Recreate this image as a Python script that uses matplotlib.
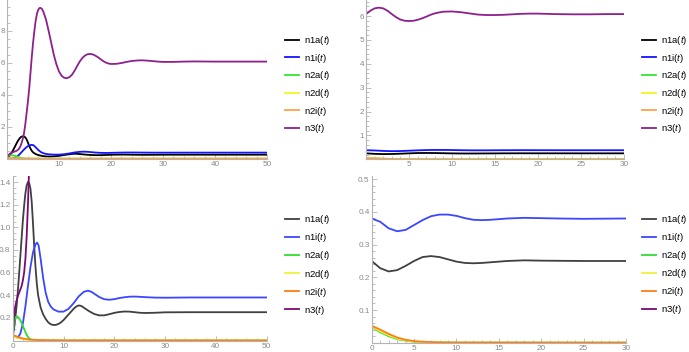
import numpy as np
import matplotlib
matplotlib.use("Agg")
import matplotlib.pyplot as plt
from matplotlib.ticker import MultipleLocator, FixedLocator

plt.rcParams['font.family'] = ['Liberation Sans', 'DejaVu Sans']
plt.rcParams['mathtext.fontset'] = 'custom'
plt.rcParams['mathtext.rm'] = 'Liberation Sans'
plt.rcParams['mathtext.it'] = 'Liberation Sans:italic'

# ---- data: run from initial state (left panels), t = 0..50
t_n1a = [0, 0.25, 0.5, 0.75, 1.0, 1.25, 1.5, 1.75, 2.0, 2.25, 2.5, 2.75, 3.0, 3.25, 3.5, 3.75,
         4.0, 4.25, 4.5, 4.75, 5.0, 5.5, 6.0, 6.5, 7.0, 7.5, 8.0, 8.5, 9.0, 9.5, 10, 11, 12, 12.5,
         13, 13.5, 14, 15, 16, 17, 18, 19, 20, 21, 22, 23, 24, 25, 26, 28, 30, 35, 40, 50]
n1a = [0.04, 0.1, 0.19, 0.3, 0.43, 0.58, 0.74, 0.9, 1.06, 1.19, 1.3, 1.37, 1.4, 1.39, 1.34, 1.22,
       1.03, 0.82, 0.64, 0.5, 0.4, 0.29, 0.23, 0.19, 0.16, 0.143, 0.137, 0.138, 0.146, 0.16, 0.18,
       0.23, 0.28, 0.3, 0.31, 0.305, 0.29, 0.26, 0.235, 0.222, 0.222, 0.232, 0.244, 0.252, 0.256,
       0.255, 0.25, 0.245, 0.243, 0.245, 0.249, 0.25, 0.25, 0.25]

t_n1i = [0, 0.5, 1.0, 1.5, 2.0, 2.5, 3.0, 3.5, 4.0, 4.5, 4.8, 5.1, 5.5, 6.0, 6.5, 7.0, 7.5, 8.0,
         9.0, 10, 11, 12, 13, 14, 14.8, 15.5, 16, 17, 18, 19, 20, 21, 22, 23, 24, 25, 26, 28, 30,
         35, 40, 50]
n1i = [0.05, 0.03, 0.025, 0.06, 0.15, 0.3, 0.48, 0.65, 0.78, 0.85, 0.865, 0.84, 0.72, 0.55, 0.42,
       0.34, 0.3, 0.275, 0.255, 0.255, 0.28, 0.33, 0.39, 0.43, 0.44, 0.43, 0.415, 0.385, 0.365,
       0.36, 0.365, 0.375, 0.382, 0.387, 0.388, 0.386, 0.383, 0.379, 0.378, 0.38, 0.38, 0.38]

t_n2a = [0, 0.25, 0.5, 0.8, 1.2, 1.6, 2.0, 2.4, 2.8, 3.2, 3.6, 4.0, 5.0, 10, 50]
n2a = [0.05, 0.15, 0.2, 0.215, 0.2, 0.17, 0.13, 0.085, 0.045, 0.02, 0.008, 0.004, 0.001, 0.0, 0.0]

t_n2d = [0, 0.5, 1, 2, 3, 4, 6, 10, 50]
n2d = [0.04, 0.03, 0.022, 0.012, 0.006, 0.003, 0.001, 0.0, 0.0]

t_n2i = [0, 0.5, 1, 2, 3, 4, 5, 7, 10, 20, 50]
n2i = [0.05, 0.04, 0.03, 0.018, 0.01, 0.006, 0.004, 0.002, 0.001, 0.0005, 0.0]

t_n3 = [0, 0.25, 0.5, 0.75, 1.0, 1.25, 1.5, 1.75, 2.0, 2.25, 2.5, 2.75, 3.0, 3.25, 3.5, 3.75,
        4.0, 4.25, 4.5, 4.75, 5.0, 5.25, 5.5, 5.75, 6.0, 6.25, 6.5, 6.75, 7.0, 7.5, 8.0, 8.5, 9.0,
        9.5, 10, 10.5, 11, 11.5, 12, 12.5, 13, 13.5, 14, 14.5, 15, 15.5, 16, 16.5, 17, 17.5, 18,
        18.5, 19, 19.5, 20, 21, 22, 23, 24, 25, 26, 27, 28, 29, 30, 32, 34, 36, 40, 45, 50]
n3 = [0.05, 0.2, 0.3, 0.35, 0.39, 0.42, 0.45, 0.48, 0.53, 0.6, 0.72, 0.92, 1.2, 1.55, 2.1, 2.8,
      3.5, 4.3, 5.3, 6.3, 7.2, 7.95, 8.6, 9.05, 9.3, 9.42, 9.42, 9.35, 9.18, 8.7, 8.0, 7.25, 6.5,
      5.9, 5.45, 5.18, 5.06, 5.03, 5.1, 5.25, 5.5, 5.8, 6.08, 6.3, 6.45, 6.53, 6.55, 6.52, 6.44,
      6.34, 6.22, 6.1, 6.01, 5.95, 5.92, 5.93, 5.98, 6.05, 6.11, 6.14, 6.15, 6.13, 6.1, 6.07, 6.05,
      6.05, 6.07, 6.08, 6.07, 6.07, 6.07]

# ---- data: run from near equilibrium (right panels), t = 0..30
s_n1a = [0, 1, 2, 3, 4, 5, 6, 7, 8, 9, 10, 11, 12, 13, 14, 16, 18, 20, 25, 30]
m1a = [0.25, 0.228, 0.218, 0.222, 0.235, 0.25, 0.262, 0.265, 0.262, 0.255, 0.248, 0.244, 0.243,
       0.244, 0.246, 0.25, 0.252, 0.251, 0.25, 0.25]

s_n1i = [0, 1, 2, 3, 4, 5, 6, 7, 8, 9, 10, 11, 12, 13, 14, 15, 16, 18, 20, 22, 25, 30]
m1i = [0.38, 0.37, 0.35, 0.341, 0.345, 0.36, 0.375, 0.387, 0.392, 0.392, 0.388, 0.381, 0.376,
       0.375, 0.376, 0.378, 0.38, 0.382, 0.381, 0.38, 0.379, 0.38]

s_n2 = [0, 1, 2, 3, 4, 5, 6, 8, 10, 30]
m2a = [0.048, 0.032, 0.02, 0.011, 0.006, 0.003, 0.0015, 0.0005, 0.0002, 0.0]
m2d = [0.05, 0.035, 0.023, 0.013, 0.007, 0.004, 0.002, 0.0007, 0.0003, 0.0]
m2i = [0.052, 0.04, 0.027, 0.016, 0.009, 0.005, 0.003, 0.001, 0.0005, 0.0]

s_n3 = [0, 0.5, 1.0, 1.5, 2.0, 2.5, 3.0, 3.5, 4.0, 4.5, 5.0, 5.5, 6.0, 6.5, 7.0, 7.5, 8.0, 8.5,
        9.0, 10, 11, 12, 13, 14, 15, 16, 17, 18, 19, 20, 21, 22, 24, 26, 28, 30]
m3 = [6.08, 6.22, 6.32, 6.35, 6.32, 6.22, 6.08, 5.95, 5.85, 5.8, 5.79, 5.8, 5.84, 5.9, 5.97, 6.05,
      6.11, 6.15, 6.18, 6.19, 6.16, 6.11, 6.06, 6.04, 6.04, 6.05, 6.07, 6.09, 6.1, 6.1, 6.09, 6.08,
      6.07, 6.07, 6.08, 6.08]

labels = ['n1a($t$)', 'n1i($t$)', 'n2a($t$)', 'n2d($t$)', 'n2i($t$)', 'n3($t$)']
top_colors = ['#000000', '#1414ff', '#2ee82e', '#f5f522', '#ffa04a', '#8e1f8e']
bot_colors = ['#404040', '#3a46ff', '#30dc30', '#f0f040', '#ff7c14', '#780a78']

left_runs = [(t_n1a, n1a), (t_n1i, n1i), (t_n2a, n2a), (t_n2d, n2d), (t_n2i, n2i), (t_n3, n3)]
right_runs = [(s_n1a, m1a), (s_n1i, m1i), (s_n2, m2a), (s_n2, m2d), (s_n2, m2i), (s_n3, m3)]

W, H = 689, 352
fig = plt.figure(figsize=(W / 100, H / 100), dpi=100)

def px_axes(x0, x1, y_top, y_zero):
    # axes rectangle from pixel coordinates
    return fig.add_axes([x0 / W, 1 - y_zero / H, (x1 - x0) / W, (y_zero - y_top) / H])

def style(ax, xmax, ymax, xmin, ymin, xticks, yticks):
    ax.set_xlim(0, xmax)
    ax.set_ylim(0, ymax)
    for s in ['top', 'right']:
        ax.spines[s].set_visible(False)
    for s in ['left', 'bottom']:
        ax.spines[s].set_color('#b4b4b4')
        ax.spines[s].set_linewidth(0.8)
    ax.xaxis.set_major_locator(FixedLocator(xticks))
    ax.yaxis.set_major_locator(FixedLocator(yticks))
    ax.xaxis.set_minor_locator(MultipleLocator(xmin))
    ax.yaxis.set_minor_locator(MultipleLocator(ymin))
    ax.tick_params(which='both', direction='in', color='#b4b4b4', labelcolor='#8a8a8a',
                   labelsize=5.9, width=0.6, pad=1.5)
    ax.tick_params(which='major', length=3.5)
    ax.tick_params(which='minor', length=2)
    ax.patch.set_alpha(0)

def draw(ax, runs, colors, lw):
    hs = []
    for (tt, vv), c, lab in zip(runs, colors, labels):
        h, = ax.plot(tt, vv, color=c, lw=lw, label=lab, solid_joinstyle='round')
        hs.append(h)
    return hs

def legend(hs, x_line, y_first, spacing):
    fig.legend(handles=hs, loc='upper left', bbox_to_anchor=(x_line / W, 1 - (y_first - 6) / H),
               frameon=False, fontsize=6.8, borderpad=0, borderaxespad=0, handlelength=1.5,
               handletextpad=0.5, labelspacing=spacing)

# top left
ax1 = px_axes(7, 267, 0, 158.7)
h1 = draw(ax1, left_runs, top_colors, 1.3)
style(ax1, 50, 9.92, 2, 0.5, [10, 20, 30, 40, 50], [2, 4, 6, 8])
legend(h1, 285, 40, 0.49)

# bottom left
ax3 = px_axes(12.7, 266.7, 176, 340.5)
h3 = draw(ax3, left_runs, bot_colors, 1.3)
style(ax3, 50, 1.453, 2, 0.05, [0, 10, 20, 30, 40, 50], [0.2, 0.4, 0.6, 0.8, 1.0, 1.2, 1.4])
ax3.yaxis.set_major_formatter(plt.FormatStrFormatter('%.1f'))
legend(h3, 285, 219.3, 0.54)

# top right
ax2 = px_axes(366, 624, 0, 159.3)
h2 = draw(ax2, right_runs, top_colors, 1.3)
style(ax2, 30, 6.67, 1, 0.2, [5, 10, 15, 20, 25, 30], [1, 2, 3, 4, 5, 6])
legend(h2, 642, 40, 0.49)

# bottom right
ax4 = px_axes(371.7, 626, 176, 342.7)
h4 = draw(ax4, right_runs, bot_colors, 1.3)
style(ax4, 30, 0.51, 1, 0.02, [0, 5, 10, 15, 20, 25, 30], [0.1, 0.2, 0.3, 0.4, 0.5])
legend(h4, 642, 219, 0.54)

fig.savefig('out.png', dpi=100)
